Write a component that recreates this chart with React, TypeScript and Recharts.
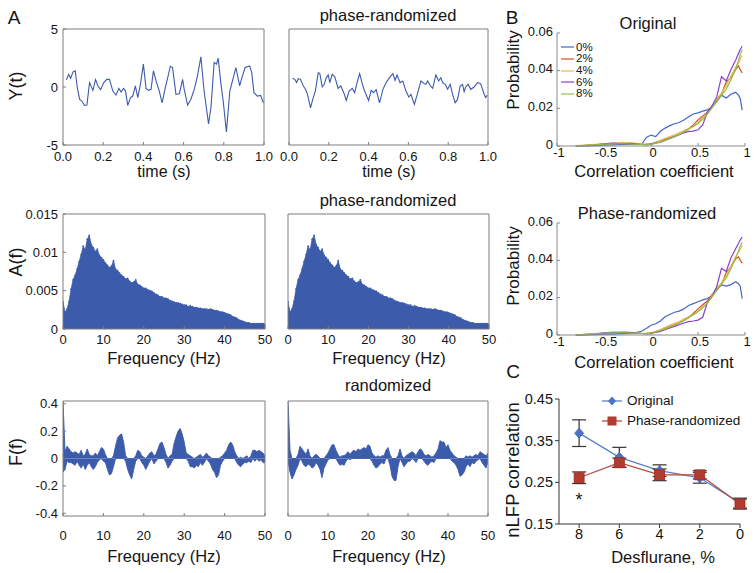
import React from "react";
import {
	Area,
	AreaChart,
	ErrorBar,
	Legend,
	Line,
	LineChart,
	ReferenceDot,
	XAxis,
	YAxis,
} from "recharts";

const FONT = '"Liberation Sans", Arial, Helvetica, sans-serif';
const INK = "#141414";
const FRAME = "#7d7d7d";
const TRACE = "#3d5bab";

// ---- A, top row: example trace (s) and its phase-randomized surrogate
const tOrig = [
	0.017, 0.028, 0.038, 0.05, 0.061, 0.071, 0.083, 0.094, 0.107, 0.119, 0.132, 0.149,
	0.162, 0.174, 0.187, 0.203, 0.218, 0.231, 0.248, 0.264, 0.278, 0.289, 0.301, 0.311,
	0.322, 0.336, 0.347, 0.36, 0.372, 0.385, 0.4, 0.413, 0.426, 0.438, 0.45, 0.463,
	0.479, 0.493, 0.509, 0.521, 0.534, 0.545, 0.562, 0.579, 0.595, 0.603, 0.62, 0.636,
	0.653, 0.669, 0.686, 0.702, 0.724, 0.736, 0.752, 0.764, 0.772, 0.785, 0.797, 0.813,
	0.83, 0.843, 0.86, 0.879, 0.889, 0.906, 0.929, 0.939, 0.95, 0.967, 0.983, 0.997,
];
const yOrig = [
	0.61, 1.1, 0.75, 1.3, 1.39, -0.06, -1.07, -1.21, -1.59, -1.56, 0.38, -0.29,
	0.64, 0.09, -0.23, 0.38, 0.66, 0.66, -0.35, -0.69, -0.12, -0.43, -0.12, -0.35,
	-1.59, -0.92, -0.78, 0.09, -0.92, 0.23, 1.97, -0.12, -0.29, -0.2, 1.39, 0.52,
	-0.35, -1.36, -0.06, 0.81, 1.79, 1.68, -0.64, -0.58, 0.66, -0.2, -1.56, -1.07,
	-0.2, 0.95, 2.6, -0.35, -3.18, -1.79, 2.11, 1.97, 2.49, 0.38, -1.21, -3.87,
	-0.35, 0.52, 1.68, 0.09, 0.75, 1.68, 1.82, 1.24, -0.49, -0.78, -0.72, -1.36,
];
const tRand = [
	0.018, 0.03, 0.038, 0.047, 0.058, 0.072, 0.083, 0.093, 0.108, 0.122, 0.133, 0.147,
	0.155, 0.167, 0.177, 0.188, 0.197, 0.205, 0.217, 0.23, 0.247, 0.26, 0.275, 0.288,
	0.302, 0.318, 0.33, 0.342, 0.355, 0.368, 0.38, 0.4, 0.413, 0.425, 0.438, 0.455,
	0.472, 0.488, 0.505, 0.522, 0.533, 0.543, 0.558, 0.572, 0.588, 0.602, 0.613, 0.63,
	0.647, 0.663, 0.68, 0.688, 0.697, 0.708, 0.722, 0.738, 0.752, 0.763, 0.772, 0.785,
	0.797, 0.81, 0.822, 0.835, 0.847, 0.86, 0.872, 0.88, 0.888, 0.9, 0.913, 0.93,
	0.947, 0.963, 0.98, 0.988, 0.997,
];
const yRand = [
	0.75, 0.64, 0.38, 0.72, 0.66, 0.09, -0.2, -0.64, -1.79, -0.92, -0.29, 1.24,
	1.16, 0, 0.23, 0.81, 1.04, 0.38, 1.1, 0.87, -0.12, 0.09, -0.49, -1.16,
	-0.35, -0.12, -0.49, 0.38, 1.16, 0.29, -0.35, -1.16, -0.29, -0.49, -0.23, -1.36,
	-0.2, 0.38, 0.81, 1.16, 0.58, 1.04, 0.38, 0.52, -0.35, -0.87, -0.64, -1.5,
	-0.49, 0.52, 0.29, 0.23, 0.52, 0.17, -0.12, 1.04, 0.52, 0.81, 0.38, 0.23,
	-0.2, 0.23, -0.64, -1.36, -1.07, 0.09, 0.23, -0.4, 0, 0.23, -0.2, 0,
	0.38, 0.29, -0.58, -0.92, -0.69,
];
const timeTicks = [0, 0.2, 0.4, 0.6, 0.8, 1];
const ytTicks = [-5, 0, 5];

// ---- A, middle row: amplitude spectrum in 0.5 Hz bins, 0..50 Hz
// (phase randomization keeps |A(f)|, so both panels show the same values)
const FREQ_STEP = 0.5;
const ampSpec = [
	0.0035, 0.0022, 0.0026, 0.0036, 0.0052, 0.0064, 0.007, 0.0078, 0.0088, 0.0097,
	0.0108, 0.0103, 0.0117, 0.0122, 0.011, 0.0106, 0.0101, 0.0104, 0.0096, 0.0093,
	0.009, 0.0086, 0.0083, 0.008, 0.0082, 0.0089, 0.0078, 0.0076, 0.0073, 0.007,
	0.0068, 0.0065, 0.0066, 0.0062, 0.006, 0.0061, 0.0064, 0.0058, 0.0057, 0.0055,
	0.0053, 0.0053, 0.0051, 0.005, 0.0049, 0.0047, 0.0045, 0.0044, 0.0042, 0.0042,
	0.004, 0.004, 0.0039, 0.0037, 0.0036, 0.0035, 0.0034, 0.0034, 0.0033, 0.0032,
	0.0031, 0.0031, 0.0029, 0.003, 0.0029, 0.0028, 0.0028, 0.0027, 0.0027, 0.0026,
	0.0026, 0.0026, 0.0025, 0.0026, 0.0025, 0.0024, 0.0024, 0.0023, 0.0022, 0.0022,
	0.0021, 0.002, 0.0019, 0.0018, 0.0016, 0.0015, 0.0014, 0.0012, 0.0011, 0.001,
	0.0009, 0.0008, 0.0008, 0.0007, 0.0007, 0.0007, 0.0007, 0.0007, 0.0007, 0.0007,
	0.0006,
];
const freqTicks = [0, 10, 20, 30, 40, 50];
const afTicks = [0, 0.005, 0.01, 0.015];

// ---- A, bottom row: phase spectrum, upper/lower envelope per 0.5 Hz bin
const phaseOrigHi = [
	0.42, 0.05, 0.09, 0.07, 0.05, 0.04, 0.05, 0.04, 0.03, 0.06,
	0.02, 0.03, 0.07, 0.03, 0.02, 0.02, 0.04, 0.02, 0.05, 0.08,
	0.07, 0.03, 0, 0, 0, 0.02, 0.09, 0.15, 0.17, 0.18,
	0.12, 0.02, 0, 0, 0, 0, 0.02, 0.06, 0.05, 0.02,
	0.01, 0, 0.02, 0.04, 0.05, 0.02, 0.03, 0.07, 0.11, 0.12,
	0.08, 0.03, 0, 0.02, 0.03, 0.11, 0.16, 0.2, 0.22, 0.18,
	0.12, 0.04, 0.03, 0.02, 0.01, 0, 0.01, 0.02, 0.03, 0.01,
	0.02, 0.04, 0.02, 0.01, 0, 0, 0, 0, 0.01, 0.02,
	0.04, 0.06, 0.1, 0.12, 0.1, 0.05, 0.02, 0, 0.01, 0,
	0.01, 0.02, 0, 0.02, 0.06, 0.06, 0.05, 0.06, 0.05, 0.04,
	0.02,
];
const phaseOrigLo = [
	-0.1, -0.08, -0.02, -0.03, -0.03, -0.04, -0.05, -0.02, -0.05, -0.07,
	-0.04, -0.08, -0.05, -0.03, -0.06, -0.08, -0.06, -0.03, -0.01, 0,
	-0.02, -0.03, -0.08, -0.12, -0.11, -0.06, 0, 0, 0, 0,
	0, -0.02, -0.08, -0.12, -0.15, -0.08, -0.02, 0, 0, -0.03,
	-0.05, -0.08, -0.05, -0.02, 0, -0.04, -0.02, 0, 0, 0,
	0, -0.03, -0.07, -0.05, -0.02, 0, 0, 0, 0, 0,
	0, 0, -0.02, -0.06, -0.06, -0.07, -0.05, -0.06, -0.03, -0.05,
	-0.03, 0, -0.02, -0.04, -0.08, -0.1, -0.14, -0.12, -0.05, -0.02,
	0, 0, 0, 0, 0, 0, -0.03, -0.05, -0.06, -0.04,
	-0.03, -0.03, -0.02, -0.03, 0, -0.02, 0, -0.02, -0.01, -0.03,
	-0.03,
];
const phaseRandHi = [
	0.42, 0.06, 0, 0, 0, 0.03, 0.09, 0.07, 0.05, 0.03,
	0.07, 0.02, 0, 0.02, 0.03, 0.02, 0, 0, 0, 0.02,
	0.04, 0.07, 0.1, 0.1, 0.06, 0.03, 0.01, 0.02, 0.02, 0.03,
	0.05, 0.03, 0.05, 0.06, 0.05, 0.07, 0.06, 0.07, 0.08, 0.07,
	0.1, 0.09, 0.04, 0.02, 0.01, 0.02, 0.01, 0.02, 0.02, 0.06,
	0.08, 0.03, 0, 0, 0, 0.02, 0.07, 0.02, 0, 0.02,
	0.03, 0.04, 0.05, 0.04, 0.02, 0.05, 0.07, 0.06, 0.03, 0.02,
	0.03, 0.02, 0.01, 0.02, 0.04, 0.07, 0.13, 0.12, 0.12, 0.08,
	0.1, 0.06, 0.04, 0.02, 0.01, 0, 0, 0, 0, 0.02,
	0.01, 0.02, 0.01, 0.02, 0.03, 0.02, 0.05, 0.04, 0.03, 0.02,
	0.04,
];
const phaseRandLo = [
	-0.02, -0.1, -0.15, -0.12, -0.08, -0.05, 0, -0.02, -0.05, -0.06,
	-0.04, -0.05, -0.07, -0.06, -0.03, -0.05, -0.08, -0.14, -0.07, -0.04,
	-0.01, 0, 0, 0, 0, -0.03, -0.05, -0.04, -0.05, -0.02,
	0, -0.01, 0, 0, 0, 0, 0, 0, 0, 0,
	0, 0, -0.02, -0.05, -0.07, -0.06, -0.04, -0.03, -0.04, 0,
	0, -0.05, -0.13, -0.16, -0.16, -0.06, 0, -0.03, -0.06, -0.04,
	-0.02, -0.02, 0, -0.01, -0.03, 0, 0, 0, -0.02, -0.04,
	-0.05, -0.03, -0.02, -0.03, 0, 0, 0, 0, 0, 0,
	0, 0, -0.02, -0.03, -0.05, -0.08, -0.13, -0.12, -0.1, -0.06,
	-0.04, -0.06, -0.03, -0.04, -0.02, -0.01, 0, -0.03, -0.05, -0.07,
	-0.02,
];
const ffTicks = [-0.4, -0.2, 0, 0.2, 0.4];

// ---- B: distribution of pairwise correlation coefficients per desflurane level
const rBins = [
	-0.8, -0.7, -0.6, -0.5, -0.4, -0.3, -0.2, -0.1, -0.05, 0, 0.05, 0.1, 0.15, 0.2, 0.25,
	0.3, 0.35, 0.4, 0.45, 0.5, 0.55, 0.6, 0.65, 0.7, 0.75, 0.8, 0.85, 0.9, 0.93, 0.95, 0.97,
];
const origP0 = [
	0, 0.0001, 0.0002, 0.0004, 0.0006, 0.0008, 0.0009, 0.0008, 0.0045, 0.0058, 0.005,
	0.0078, 0.0095, 0.0108, 0.0118, 0.0125, 0.0138, 0.0155, 0.017, 0.0176, 0.0185,
	0.0192, 0.0205, 0.0235, 0.027, 0.0255, 0.0275, 0.0285, 0.027, 0.025, 0.019,
];
const origP2 = [
	0, 0.0003, 0.0006, 0.001, 0.0013, 0.0016, 0.0013, 0.0009, 0.001, 0.0012, 0.002,
	0.0028, 0.0036, 0.0043, 0.0052, 0.0062, 0.0076, 0.0092, 0.0112, 0.0138, 0.016,
	0.0178, 0.0215, 0.0242, 0.0275, 0.034, 0.0362, 0.0405, 0.0425, 0.0405, 0.0388,
];
const origP4 = [
	0.0002, 0.0005, 0.0009, 0.0013, 0.0016, 0.0019, 0.0015, 0.0011, 0.0009, 0.0011, 0.002,
	0.003, 0.004, 0.005, 0.006, 0.007, 0.0082, 0.0092, 0.0102, 0.0122, 0.015,
	0.0168, 0.021, 0.0252, 0.028, 0.0322, 0.037, 0.0418, 0.044, 0.0462, 0.048,
];
const origP6 = [
	0, 0.0002, 0.0005, 0.0012, 0.0015, 0.0012, 0.0014, 0.0008, 0.0006, 0.001, 0.0015,
	0.002, 0.003, 0.004, 0.005, 0.006, 0.007, 0.0078, 0.0079, 0.0086, 0.0112,
	0.0182, 0.0212, 0.0262, 0.0368, 0.0345, 0.0405, 0.0455, 0.049, 0.0512, 0.053,
];
const origP8 = [
	0.0001, 0.0003, 0.0006, 0.001, 0.0012, 0.0012, 0.001, 0.0008, 0.0007, 0.0009, 0.0015,
	0.0022, 0.003, 0.004, 0.005, 0.0062, 0.0075, 0.009, 0.0105, 0.012, 0.0142,
	0.017, 0.0202, 0.0238, 0.027, 0.0302, 0.0352, 0.041, 0.0452, 0.0488, 0.051,
];
const randP0 = [
	0, 0.0001, 0.0002, 0.0004, 0.0005, 0.0007, 0.0009, 0.002, 0.0035, 0.0052, 0.006,
	0.0075, 0.0098, 0.011, 0.0122, 0.0128, 0.014, 0.0158, 0.0168, 0.0178, 0.0188,
	0.0195, 0.021, 0.024, 0.0268, 0.0262, 0.027, 0.0285, 0.0275, 0.026, 0.0195,
];
const randP2 = [
	0, 0.0003, 0.0005, 0.0009, 0.0012, 0.0015, 0.0012, 0.0008, 0.0009, 0.0011, 0.0019,
	0.0027, 0.0035, 0.0045, 0.0055, 0.0064, 0.0078, 0.0094, 0.0115, 0.014, 0.0162,
	0.0182, 0.0218, 0.0245, 0.0272, 0.0335, 0.0365, 0.0408, 0.0418, 0.04, 0.0385,
];
const randP4 = [
	0.0002, 0.0004, 0.0008, 0.0012, 0.0015, 0.0018, 0.0014, 0.001, 0.0009, 0.001, 0.0019,
	0.0029, 0.0041, 0.0052, 0.0062, 0.0072, 0.0085, 0.0098, 0.011, 0.0128, 0.0152,
	0.017, 0.0212, 0.0255, 0.0278, 0.0318, 0.0368, 0.042, 0.0442, 0.046, 0.0478,
];
const randP6 = [
	0, 0.0002, 0.0005, 0.0011, 0.0014, 0.0012, 0.0013, 0.0008, 0.0006, 0.0009, 0.0014,
	0.0019, 0.0028, 0.0038, 0.0046, 0.0055, 0.0064, 0.0072, 0.0075, 0.008, 0.0095,
	0.0175, 0.0205, 0.026, 0.0358, 0.034, 0.0412, 0.0462, 0.049, 0.051, 0.0525,
];
const randP8 = [
	0.0001, 0.0003, 0.0006, 0.001, 0.0012, 0.0012, 0.001, 0.0008, 0.0007, 0.0009, 0.0016,
	0.0024, 0.0032, 0.0042, 0.0052, 0.0064, 0.0078, 0.0092, 0.0108, 0.0125, 0.0145,
	0.0172, 0.0205, 0.024, 0.0272, 0.0305, 0.0355, 0.0412, 0.0448, 0.0478, 0.0495,
];
const doseNames = ["0%", "2%", "4%", "6%", "8%"];
const doseColors = ["#4466cc", "#d9501f", "#edb84a", "#8a3fd0", "#8dbf4a"];
const rTicks = [-1, -0.5, 0, 0.5, 1];
const probTicks = [0, 0.02, 0.04, 0.06];

// ---- C: mean nLFP correlation vs desflurane (%)
const desflurane = [8, 6, 4, 2, 0];
const corrOrig = [0.368, 0.31, 0.278, 0.261, 0.2];
const semOrig = [0.032, 0.024, 0.014, 0.013, 0.012];
const corrRand = [0.261, 0.297, 0.268, 0.268, 0.198];
const semRand = [0.014, 0.011, 0.014, 0.01, 0.012];
const desTicks = [8, 6, 4, 2, 0];
const corrTicks = [0.15, 0.25, 0.35, 0.45];

const traceOrig = tOrig.map((t, i) => ({ t, y: yOrig[i] }));
const traceRand = tRand.map((t, i) => ({ t, y: yRand[i] }));
const ampData = ampSpec.map((a, i) => ({ f: i * FREQ_STEP, a }));
const phaseOrig = phaseOrigHi.map((hi, i) => ({ f: i * FREQ_STEP, hi, lo: phaseOrigLo[i] }));
const phaseRand = phaseRandHi.map((hi, i) => ({ f: i * FREQ_STEP, hi, lo: phaseRandLo[i] }));
const distOrig = rBins.map((r, i) => ({
	r, c0: origP0[i], c2: origP2[i], c4: origP4[i], c6: origP6[i], c8: origP8[i],
}));
const distRand = rBins.map((r, i) => ({
	r, c0: randP0[i], c2: randP2[i], c4: randP4[i], c6: randP6[i], c8: randP8[i],
}));
const corrData = desflurane.map((d, i) => ({
	d, orig: corrOrig[i], origErr: semOrig[i], rand: corrRand[i], randErr: semRand[i],
}));

type Box = { x: number; y: number; w: number; h: number };

// chart placed so that its plot area lands exactly on box
function place(b: Box, padL: number, padB: number, padT = 6, padR = 14) {
	return {
		left: b.x - padL,
		top: b.y - padT,
		width: b.w + padL + padR,
		height: b.h + padT + padB,
		margin: { top: padT, right: padR, left: 0, bottom: 0 },
	};
}

interface BoxAxes {
	xKey: string;
	xDomain: [number, number];
	xTicks: number[];
	xFmt?: (v: number) => string;
	xMargin: number;
	yDomain: [number, number];
	yTicks: number[];
	yLabels: boolean;
	padL: number;
	padB: number;
}

// matlab style box: inward ticks on all four sides
function boxAxes(o: BoxAxes) {
	const tick = { fontSize: 13, fill: INK };
	return [
		<XAxis key="xb" type="number" dataKey={o.xKey} domain={o.xDomain} ticks={o.xTicks}
			tickFormatter={o.xFmt} height={o.padB} stroke={FRAME} tickSize={-3}
			tickMargin={o.xMargin} tick={tick} interval={0} allowDataOverflow />,
		<XAxis key="xt" xAxisId="top" orientation="top" type="number" domain={o.xDomain}
			ticks={o.xTicks} height={1} stroke={FRAME} tickSize={-3} tick={false} interval={0}
			allowDataOverflow />,
		<YAxis key="yl" type="number" domain={o.yDomain} ticks={o.yTicks} width={o.padL}
			stroke={FRAME} tickSize={-3} tickMargin={8} tick={o.yLabels ? tick : false}
			interval={0} allowDataOverflow />,
		<YAxis key="yr" yAxisId="right" orientation="right" type="number" domain={o.yDomain}
			ticks={o.yTicks} width={1} stroke={FRAME} tickSize={-3} tick={false} interval={0}
			allowDataOverflow />,
	];
}

function Txt({ x, y, size, rot, children }: {
	x: number; y: number; size: number; rot?: boolean; children: React.ReactNode;
}) {
	return (
		<div
			style={{
				position: "absolute",
				left: x,
				top: y,
				transform: `translate(-50%, -50%)${rot ? " rotate(-90deg)" : ""}`,
				fontSize: size,
				lineHeight: 1,
				whiteSpace: "nowrap",
				color: INK,
			}}
		>
			{children}
		</div>
	);
}

function TracePanel({ box, data, yLabels }: { box: Box; data: { t: number; y: number }[]; yLabels: boolean }) {
	const p = place(box, 40, 30);
	return (
		<div style={{ position: "absolute", left: p.left, top: p.top }}>
			<LineChart width={p.width} height={p.height} margin={p.margin} data={data}>
				{boxAxes({
					xKey: "t", xDomain: [0, 1], xTicks: timeTicks, xFmt: (v) => v.toFixed(1), xMargin: 10,
					yDomain: [-5, 5], yTicks: ytTicks, yLabels, padL: 40, padB: 30,
				})}
				<Line type="linear" dataKey="y" stroke={TRACE} strokeWidth={1.1} dot={false} isAnimationActive={false} />
			</LineChart>
		</div>
	);
}

function AmpPanel({ box, yLabels }: { box: Box; yLabels: boolean }) {
	const p = place(box, 48, 26);
	return (
		<div style={{ position: "absolute", left: p.left, top: p.top }}>
			<AreaChart width={p.width} height={p.height} margin={p.margin} data={ampData}>
				{boxAxes({
					xKey: "f", xDomain: [0, 50], xTicks: freqTicks, xMargin: 9,
					yDomain: [0, 0.015], yTicks: afTicks, yLabels, padL: 48, padB: 26,
				})}
				<Area type="linear" dataKey="a" baseValue={0} stroke={TRACE} strokeWidth={0.8}
					fill={TRACE} fillOpacity={1} dot={{ r: 0.9, fill: TRACE, stroke: "none" }}
					isAnimationActive={false} />
			</AreaChart>
		</div>
	);
}

function PhasePanel({ box, data, yLabels }: {
	box: Box; data: { f: number; hi: number; lo: number }[]; yLabels: boolean;
}) {
	const p = place(box, 48, 34);
	return (
		<div style={{ position: "absolute", left: p.left, top: p.top }}>
			<AreaChart width={p.width} height={p.height} margin={p.margin} data={data}>
				{boxAxes({
					xKey: "f", xDomain: [0, 50], xTicks: freqTicks, xMargin: 18,
					yDomain: [-0.42, 0.42], yTicks: ffTicks, yLabels, padL: 48, padB: 34,
				})}
				<Area type="linear" dataKey="hi" baseValue={0} stroke={TRACE} strokeWidth={0.9}
					fill={TRACE} fillOpacity={1} dot={false} isAnimationActive={false} />
				<Area type="linear" dataKey="lo" baseValue={0} stroke={TRACE} strokeWidth={0.9}
					fill={TRACE} fillOpacity={1} dot={false} isAnimationActive={false} />
			</AreaChart>
		</div>
	);
}

function DoseLegend() {
	return (
		<div style={{ fontSize: 11.5, color: INK, fontFamily: FONT }}>
			{doseNames.map((n, i) => (
				<div key={n} style={{ display: "flex", alignItems: "center", height: 11.7 }}>
					<svg width={14} height={4}>
						<line x1={0} y1={2} x2={13} y2={2} stroke={doseColors[i]} strokeWidth={1.2} />
					</svg>
					<span style={{ marginLeft: 1, lineHeight: 1 }}>{n}</span>
				</div>
			))}
		</div>
	);
}

function DistPanel({ box, data, legend }: { box: Box; data: typeof distOrig; legend: boolean }) {
	const p = place(box, 46, 32, 8, 8);
	const tick = { fontSize: 13, fill: INK };
	const keys = ["c0", "c2", "c4", "c6", "c8"];
	return (
		<div style={{ position: "absolute", left: p.left, top: p.top }}>
			<LineChart width={p.width} height={p.height} margin={p.margin} data={data}>
				<XAxis type="number" dataKey="r" domain={[-1, 1]} ticks={rTicks} height={32}
					stroke="#8a8a8a" tickSize={-3} tickMargin={5} tick={{ ...tick, dx: 2 }} interval={0} />
				<YAxis type="number" domain={[0, 0.06]} ticks={probTicks} width={46}
					stroke="#8a8a8a" tickSize={-3} tickMargin={7} tick={{ ...tick, dy: -2 }} interval={0} />
				{keys.map((k, i) => (
					<Line key={k} type="linear" dataKey={k} name={doseNames[i]} stroke={doseColors[i]}
						strokeWidth={1.2} dot={false} isAnimationActive={false} />
				))}
				{legend && (
					<Legend layout="vertical" align="center" verticalAlign="middle"
						wrapperStyle={{ left: 561 - p.left, top: 41.5 - p.top, width: 40 }}
						content={() => <DoseLegend />} />
				)}
			</LineChart>
		</div>
	);
}

const diamondDot = (d: any) => (
	<path key={`dm-${d.index}`}
		d={`M${d.cx},${d.cy - 5} L${d.cx + 4.5},${d.cy} L${d.cx},${d.cy + 5} L${d.cx - 4.5},${d.cy} Z`}
		fill="#4a73c8" stroke="#3b62b5" strokeWidth={0.8} />
);
const squareDot = (d: any) => (
	<rect key={`sq-${d.index}`} x={d.cx - 5} y={d.cy - 5} width={10} height={10}
		fill="#b23a2e" stroke="#982f25" strokeWidth={0.8} />
);

function CorrLegend() {
	const rows = [
		{ name: "Original", color: "#5a7fd0", mark: "d" },
		{ name: "Phase-randomized", color: "#b5483c", mark: "s" },
	];
	return (
		<div style={{ fontSize: 13.5, color: INK, fontFamily: FONT }}>
			{rows.map((r) => (
				<div key={r.name} style={{ display: "flex", alignItems: "center", height: 20 }}>
					<svg width={22} height={12}>
						<line x1={0} y1={6} x2={20} y2={6} stroke={r.color} strokeWidth={1.3} />
						{r.mark === "d" ? (
							<path d="M10,1.5 L14,6 L10,10.5 L6,6 Z" fill="#4a73c8" />
						) : (
							<rect x={5.5} y={1.5} width={9} height={9} fill="#b23a2e" />
						)}
					</svg>
					<span style={{ marginLeft: 3, lineHeight: 1 }}>{r.name}</span>
				</div>
			))}
		</div>
	);
}

function CorrPanel({ box }: { box: Box }) {
	const p = place(box, 48, 36, 8, 12);
	const tick = { fontSize: 14.5, fill: INK };
	return (
		<div style={{ position: "absolute", left: p.left, top: p.top }}>
			<LineChart width={p.width} height={p.height} margin={p.margin} data={corrData}>
				<XAxis type="number" dataKey="d" domain={[0, 9]} reversed ticks={desTicks} height={36}
					stroke="#333" tickSize={4} tickMargin={1} tick={tick} interval={0} />
				<YAxis type="number" domain={[0.15, 0.45]} ticks={corrTicks} width={48}
					stroke="#333" tickSize={4} tickMargin={2} tick={tick} interval={0} />
				<Line type="linear" dataKey="orig" name="Original" stroke="#5a7fd0" strokeWidth={1.3}
					dot={diamondDot} isAnimationActive={false}>
					<ErrorBar dataKey="origErr" direction="y" width={7} stroke="#333" strokeWidth={1.2}
						isAnimationActive={false} />
				</Line>
				<Line type="linear" dataKey="rand" name="Phase-randomized" stroke="#b5483c" strokeWidth={1.3}
					dot={squareDot} isAnimationActive={false}>
					<ErrorBar dataKey="randErr" direction="y" width={7} stroke="#333" strokeWidth={1.2}
						isAnimationActive={false} />
				</Line>
				<ReferenceDot x={8} y={0.217} r={0}
					shape={(s: any) => (
						<text x={s.cx} y={s.cy + 10} textAnchor="middle" fontSize={18} fill={INK}
							fontFamily={FONT}>*</text>
					)} />
				<Legend layout="vertical" align="center" verticalAlign="middle"
					wrapperStyle={{ left: 602 - p.left, top: 391 - p.top, width: 140 }}
					content={() => <CorrLegend />} />
			</LineChart>
		</div>
	);
}

export default function App() {
	return (
		<div
			style={{
				position: "absolute",
				left: 0,
				top: 0,
				width: 754,
				height: 573,
				background: "#fff",
				fontFamily: FONT,
				overflow: "hidden",
			}}
		>
			<TracePanel box={{ x: 63, y: 28, w: 202, h: 117 }} data={traceOrig} yLabels />
			<TracePanel box={{ x: 289, y: 28, w: 200, h: 117 }} data={traceRand} yLabels={false} />
			<AmpPanel box={{ x: 63, y: 213, w: 203, h: 116 }} yLabels />
			<AmpPanel box={{ x: 288, y: 213, w: 202, h: 116 }} yLabels={false} />
			<PhasePanel box={{ x: 63, y: 400, w: 203, h: 116 }} data={phaseOrig} yLabels />
			<PhasePanel box={{ x: 288, y: 400, w: 201, h: 116 }} data={phaseRand} yLabels={false} />
			<DistPanel box={{ x: 557, y: 33, w: 188, h: 113 }} data={distOrig} legend />
			<DistPanel box={{ x: 557, y: 223, w: 188, h: 112 }} data={distRand} legend={false} />
			<CorrPanel box={{ x: 559, y: 399, w: 181, h: 125 }} />

			<Txt x={14} y={17} size={19}>A</Txt>
			<Txt x={512} y={17} size={19}>B</Txt>
			<Txt x={513} y={371} size={19}>C</Txt>

			<Txt x={388} y={15} size={16.5}>phase-randomized</Txt>
			<Txt x={388} y={200} size={16.5}>phase-randomized</Txt>
			<Txt x={388} y={385} size={16.5}>randomized</Txt>

			<Txt x={16} y={86} size={18} rot>Y(t)</Txt>
			<Txt x={16} y={262} size={18} rot>A(f)</Txt>
			<Txt x={16} y={452} size={18} rot>F(f)</Txt>

			<Txt x={164} y={172} size={16}>time (s)</Txt>
			<Txt x={389} y={172} size={16}>time (s)</Txt>
			<Txt x={164} y={358} size={16.5}>Frequency (Hz)</Txt>
			<Txt x={389} y={358} size={16.5}>Frequency (Hz)</Txt>
			<Txt x={164} y={556} size={16.5}>Frequency (Hz)</Txt>
			<Txt x={389} y={556} size={16.5}>Frequency (Hz)</Txt>

			<Txt x={648} y={23} size={16.5}>Original</Txt>
			<Txt x={647} y={213} size={16.5}>Phase-randomized</Txt>
			<Txt x={513} y={70} size={17} rot>Probability</Txt>
			<Txt x={513} y={266} size={17} rot>Probability</Txt>
			<Txt x={654} y={171} size={16.5}>Correlation coefficient</Txt>
			<Txt x={654} y={362} size={16.5}>Correlation coefficient</Txt>

			<Txt x={513} y={470} size={18.5} rot>nLFP correlation</Txt>
			<Txt x={663} y={557} size={16.5}>Desflurane, %</Txt>
		</div>
	);
}
